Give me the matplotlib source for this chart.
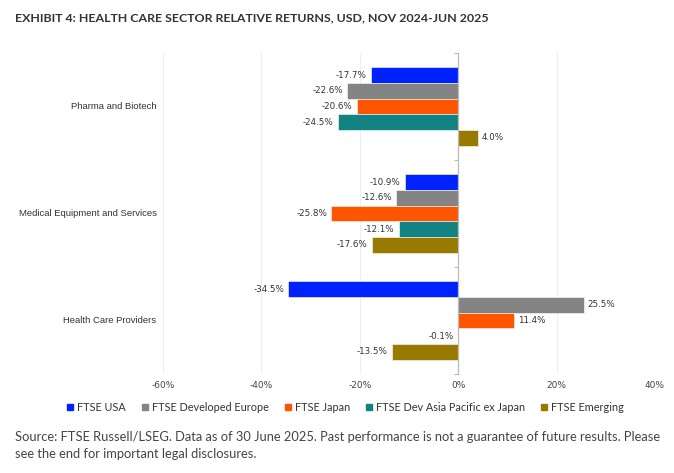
import matplotlib
matplotlib.use("Agg")
import matplotlib.pyplot as plt
import numpy as np
from matplotlib.lines import Line2D

categories = ["Pharma and Biotech", "Medical Equipment and Services", "Health Care Providers"]
series = ["FTSE USA", "FTSE Developed Europe", "FTSE Japan", "FTSE Dev Asia Pacific ex Japan", "FTSE Emerging"]
values = {
    "FTSE USA": [-17.7, -10.9, -34.5],
    "FTSE Developed Europe": [-22.6, -12.6, 25.5],
    "FTSE Japan": [-20.6, -25.8, 11.4],
    "FTSE Dev Asia Pacific ex Japan": [-24.5, -12.1, -0.1],
    "FTSE Emerging": [4.0, -17.6, -13.5],
}
colors = ["#0022FF", "#848484", "#FF5500", "#138282", "#997A00"]
xticks = [-60, -40, -20, 0, 20, 40]
xticklabels = ["-60%", "-40%", "-20%", "0%", "20%", "40%"]

plt.rcParams['font.family'] = ['Lato', 'DejaVu Sans']
fig = plt.figure(figsize=(6.74, 4.73), dpi=100)
ax = fig.add_axes([0.2418, 0.2093, 0.7300, 0.6787])

bh = 0.146
n = len(series)
for i, s in enumerate(series):
    ys = np.arange(len(categories)) + (i - (n - 1) / 2) * bh
    ax.barh(ys, values[s], height=bh, color=colors[i], edgecolor="white", linewidth=0.4, zorder=3)
    for y, v in zip(ys, values[s]):
        ha = "left" if v >= 0 else "right"
        off = 3 if v >= 0 else -3
        ax.annotate(f"{v:.1f}%", (v, y), xytext=(off, 0), textcoords="offset points",
                    ha=ha, va="center", fontsize=6.3, color="#333333",
                    family=["DejaVu Sans"])

ax.set_xlim(-60, 40)
ax.set_ylim(len(categories) - 0.5, -0.5)
ax.set_xticks(xticks)
ax.set_xticklabels(xticklabels, fontsize=6.5, color="#444444", family=["DejaVu Sans"])
ax.tick_params(axis="x", length=0, pad=5)
ax.grid(axis="x", color="#EEEEEE", linewidth=0.8, zorder=0)
for sp in ["top", "right", "bottom"]:
    ax.spines[sp].set_visible(False)
ax.spines["left"].set_position(("data", 0))
ax.spines["left"].set_color("#BBBBBB")
ax.spines["left"].set_linewidth(0.9)
ax.spines["left"].set_zorder(4)
ax.set_yticks(np.arange(len(categories) + 1) - 0.5)
ax.set_yticklabels([])
ax.tick_params(axis="y", length=3, color="#BBBBBB", direction="out")
for j, c in enumerate(categories):
    ax.text(-0.013, j, c, transform=ax.get_yaxis_transform(), ha="right", va="center",
            fontsize=6.8, color="#333333", family=["Liberation Sans"])

fig.text(0.022, 0.962, "EXHIBIT 4: HEALTH CARE SECTOR RELATIVE RETURNS, USD, NOV 2024-JUN 2025",
         fontsize=8.9, fontweight="bold", color="#333333", ha="left", va="center")

handles = [Line2D([], [], marker="s", linestyle="none", markersize=5, color=c) for c in colors]
fig.legend(handles, series, loc="center", bbox_to_anchor=(0.511, 0.139), ncol=5, frameon=False,
           fontsize=7.8, handletextpad=0.1, columnspacing=1.3, handlelength=1.0, labelcolor="#333333")

fig.text(0.022, 0.076, "Source: FTSE Russell/LSEG. Data as of 30 June 2025. Past performance is not a guarantee of future results. Please",
         fontsize=9.3, color="#444444", ha="left", va="center")
fig.text(0.022, 0.040, "see the end for important legal disclosures.",
         fontsize=9.3, color="#444444", ha="left", va="center")

fig.savefig("out.png", dpi=100)
